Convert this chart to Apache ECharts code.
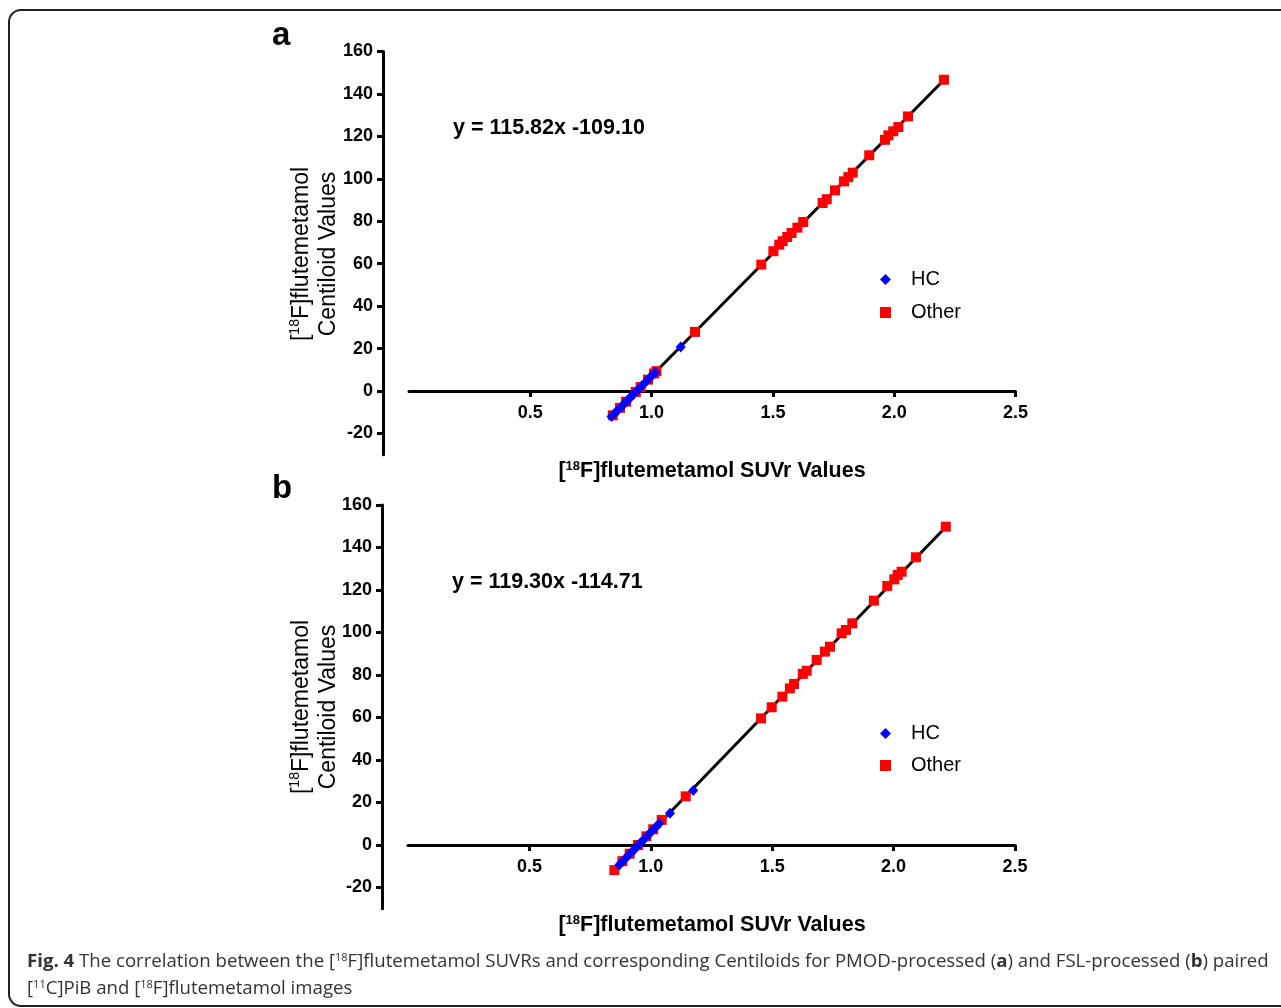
<!DOCTYPE html>
<html><head><meta charset="utf-8">
<script src="https://cdn.jsdelivr.net/npm/echarts@6/dist/echarts.min.js"></script>
<style>html,body{margin:0;padding:0;background:#fff}#c{width:1281px;height:1008px}</style>
</head><body><div id="c"></div>
<script>
// ---------- data ----------
const xTicks = [0.5, 1.0, 1.5, 2.0, 2.5];
const yTicks = [-20, 0, 20, 40, 60, 80, 100, 120, 140, 160];

// Panel a (PMOD)
const hcA = [[0.835,-12.0],[0.85,-10.2],[0.86,-9.1],[0.875,-7.4],[0.885,-6.2],[0.895,-5.0],[0.905,-3.9],[0.915,-2.7],[0.925,-1.6],[0.94,0.2],[0.96,2.5],[0.975,4.2],[0.99,6.0],[1.005,7.7],[1.015,8.8],[1.12,20.8]];
const otherA = [[0.84,-11.4],[0.87,-7.9],[0.895,-5.0],[0.935,-0.4],[0.955,1.9],[0.985,5.4],[1.01,8.3],[1.02,9.4],
  [1.179,27.9],[1.452,59.6],[1.502,65.9],[1.526,69.0],[1.540,70.6],[1.559,72.6],[1.577,74.5],[1.601,77.0],[1.625,79.7],
  [1.705,88.6],[1.722,90.4],[1.756,94.6],[1.793,98.8],[1.811,100.8],[1.829,102.9],[1.897,111.1],[1.962,118.4],
  [1.976,120.5],[1.996,122.4],[2.017,124.4],[2.057,129.4],[2.205,146.7]];
const fitA = [[0.834,-12.1],[2.206,146.7]];
const eqA = 'y = 115.82x -109.10';

// Panel b (FSL)
const hcB = [[0.87,-9.4],[0.885,-7.6],[0.9,-5.8],[0.91,-4.6],[0.92,-3.5],[0.93,-2.3],[0.94,-1.1],[0.95,0.1],[0.96,1.3],[0.975,3.0],[0.99,4.8],[1.005,6.6],[1.02,8.4],[1.035,10.1],[1.079,15.0],[1.175,25.7]];
const otherB = [[0.85,-11.8],[0.883,-7.6],[0.913,-4.1],[0.947,0.0],[0.982,4.1],[1.01,7.4],[1.045,11.8],
  [1.144,22.9],[1.454,59.6],[1.498,64.8],[1.542,69.8],[1.573,73.7],[1.590,75.8],[1.626,80.5],[1.642,82.0],
  [1.683,87.1],[1.717,91.0],[1.738,93.3],[1.786,99.6],[1.804,101.2],[1.830,104.3],[1.919,115.0],[1.974,121.9],
  [2.003,125.0],[2.017,127.1],[2.033,128.6],[2.092,135.4],[2.215,149.8]];
const fitB = [[0.846,-12.2],[2.218,150.0]];
const eqB = 'y = 119.30x -114.71';

const xTitle = '[{s|18}F]flutemetamol SUVr Values';
const yTitle = '[{s|18}F]flutemetamol\nCentiloid Values';
const cap1 = '{b|Fig. 4} The correlation between the [{s|18}F]flutemetamol SUVRs and corresponding Centiloids for PMOD-processed ({b|a}) and FSL-processed ({b|b}) paired';
const cap2 = '[{s|11}C]PiB and [{s|18}F]flutemetamol images';
const cap1Plain = 'Fig. 4 The correlation between the [18F]flutemetamol SUVRs and corresponding Centiloids for PMOD-processed (a) and FSL-processed (b) paired';

// ---------- styles ----------
const F = '"Liberation Sans", Arial, sans-serif';
const CF = '"Open Sans", "Noto Sans", sans-serif';

// caption font size fitted to the reference line width
const ctx = document.createElement('canvas').getContext('2d');
ctx.font = '18px ' + CF;
const capSize = 18 * 1247 / ctx.measureText(cap1Plain).width;

// y = 0 sits 63.75 px above the bottom of each grid (the y axis runs down to -30)
const ZERO_OFF = 63.75;

function xAxisCfg(g) {
  return {
    gridIndex: g, type: 'value', min: 0, max: 2.5, position: 'bottom', offset: -ZERO_OFF,
    axisLine: { show: true, onZero: false, lineStyle: { color: '#000', width: 3 } },
    axisTick: { show: true, length: 6, customValues: xTicks, lineStyle: { color: '#000', width: 3 } },
    axisLabel: { customValues: xTicks, formatter: v => v.toFixed(1), color: '#000', fontSize: 18, fontWeight: 'bold', fontFamily: F, margin: 13 },
    splitLine: { show: false }
  };
}
function yAxisCfg(g) {
  return {
    gridIndex: g, type: 'value', min: -30, max: 160, offset: 26,
    axisLine: { show: true, onZero: false, lineStyle: { color: '#000', width: 3 } },
    axisTick: { show: true, length: 6, customValues: yTicks, lineStyle: { color: '#000', width: 3 } },
    axisLabel: { customValues: yTicks, color: '#000', fontSize: 18, fontWeight: 'bold', fontFamily: F, margin: 10 },
    splitLine: { show: false }
  };
}
function seriesFor(idx, fit, other, hc) {
  return [
    { name: 'fit' + idx, type: 'line', xAxisIndex: idx, yAxisIndex: idx, data: fit, showSymbol: false, symbol: 'none',
      lineStyle: { color: '#000', width: 3 }, z: 2, silent: true },
    { name: 'Other', type: 'scatter', xAxisIndex: idx, yAxisIndex: idx, data: other, symbol: 'rect', symbolSize: 10,
      itemStyle: { color: '#ff0000', opacity: 1 }, z: 3 },
    { name: 'HC', type: 'scatter', xAxisIndex: idx, yAxisIndex: idx, data: hc, symbol: 'diamond', symbolSize: [10, 11],
      itemStyle: { color: '#0000ff', opacity: 1 }, z: 4 }
  ];
}
function legendCfg(top, gap) {
  return {
    orient: 'vertical', left: 875, top: top, itemWidth: 11, itemHeight: 11, itemGap: gap,
    selectedMode: false,
    textStyle: { color: '#000', fontSize: 20, fontFamily: F, lineHeight: 21, padding: [0, 0, 0, 15] },
    data: [{ name: 'HC', icon: 'diamond' }, { name: 'Other', icon: 'rect' }]
  };
}
function txt(x, y, text, font, extra) {
  return Object.assign({ type: 'text', x: x, y: y, silent: true,
    style: Object.assign({ text: text, font: font, fill: '#000', align: 'left', verticalAlign: 'middle',
      textAlign: 'left', textVerticalAlign: 'middle' }, extra || {}) });
}
const richX = { s: { font: 'bold 13px ' + F, verticalAlign: 'top', fill: '#000' } };
const richY = { s: { font: '14px ' + F, verticalAlign: 'top', fill: '#000', lineHeight: 27 } };

const graphics = [
  { type: 'rect', silent: true, shape: { x: 9, y: 10, width: 1300, height: 996, r: 12 },
    style: { fill: 'none', stroke: '#222', lineWidth: 2 } },
  txt(272, 36, 'a', 'bold 33px ' + F),
  txt(272, 489, 'b', 'bold 33px ' + F),
  txt(453, 128, eqA, 'bold 21.5px ' + F),
  txt(452, 582, eqB, 'bold 21.5px ' + F),
  txt(712, 471, xTitle, 'bold 21.5px ' + F, { align: 'center', textAlign: 'center', rich: richX }),
  txt(712, 925, xTitle, 'bold 21.5px ' + F, { align: 'center', textAlign: 'center', rich: richX }),
  Object.assign(txt(315, 254, yTitle, '23px ' + F, { align: 'center', textAlign: 'center', lineHeight: 27, rich: richY }), { rotation: Math.PI / 2 }),
  Object.assign(txt(315, 707, yTitle, '23px ' + F, { align: 'center', textAlign: 'center', lineHeight: 27, rich: richY }), { rotation: Math.PI / 2 }),
  txt(27, 962, cap1, capSize.toFixed(2) + 'px ' + CF, { fill: '#333', rich: {
      b: { font: 'bold ' + capSize.toFixed(2) + 'px ' + CF, fill: '#333' },
      s: { font: Math.round(capSize * 0.6) + 'px ' + CF, fill: '#333', verticalAlign: 'top' } } }),
  txt(27, 989, cap2, capSize.toFixed(2) + 'px ' + CF, { fill: '#333', rich: {
      s: { font: Math.round(capSize * 0.6) + 'px ' + CF, fill: '#333', verticalAlign: 'top' } } })
];

const chart = echarts.init(document.getElementById('c'), null, { renderer: 'canvas' });
chart.setOption({
  animation: false,
  backgroundColor: '#fff',
  grid: [
    { left: 409, right: 1281 - 1015.5, top: 51.5, height: 403.25 },
    { left: 408, right: 1281 - 1015, top: 505, height: 403.75 }
  ],
  xAxis: [xAxisCfg(0), xAxisCfg(1)],
  yAxis: [yAxisCfg(0), yAxisCfg(1)],
  legend: [legendCfg(264, 12), legendCfg(718, 11)],
  series: [].concat(seriesFor(0, fitA, otherA, hcA), seriesFor(1, fitB, otherB, hcB)),
  graphic: { elements: graphics }
});
</script>
</body></html>
